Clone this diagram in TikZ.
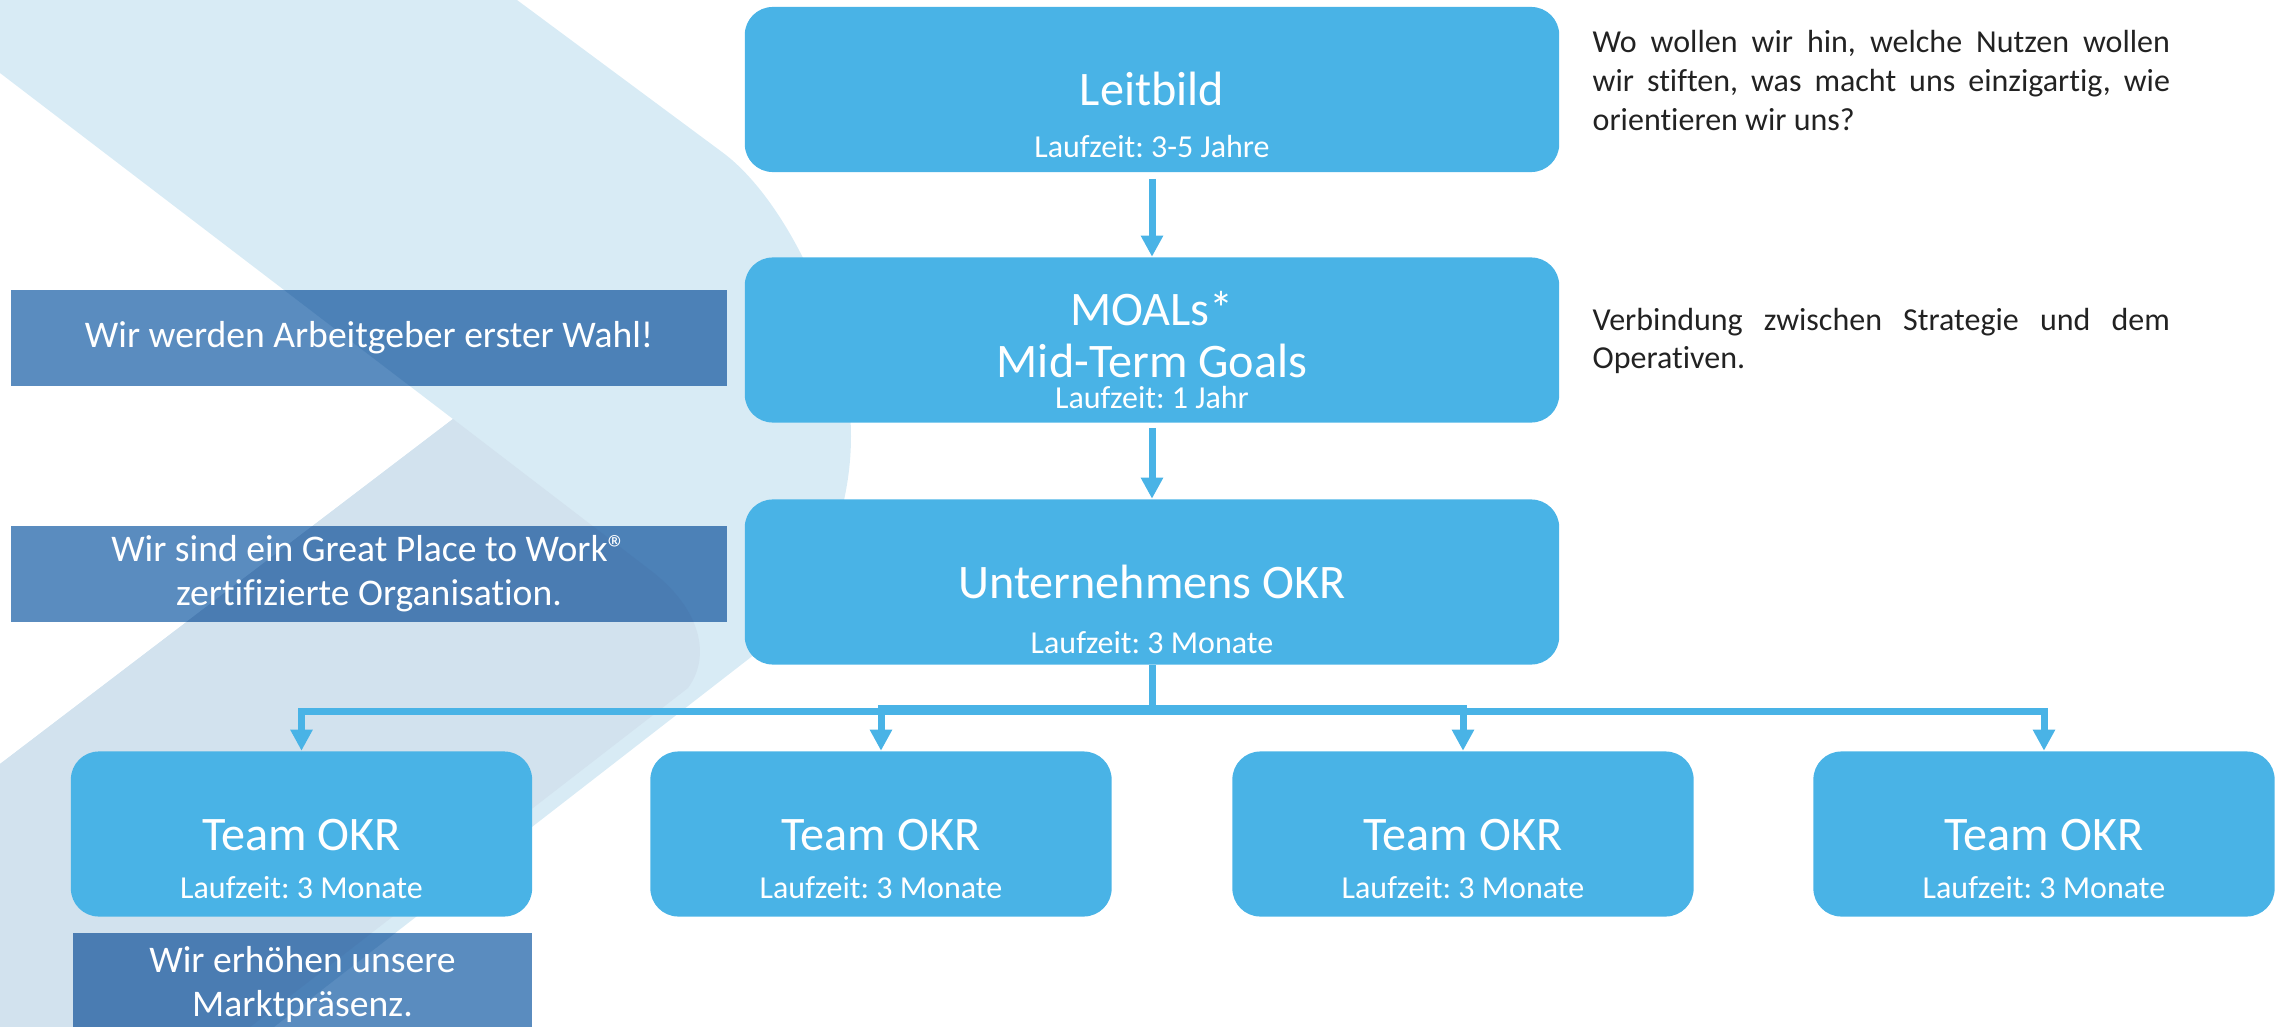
\documentclass[tikz,border=0pt]{standalone}
\usepackage{fontspec}
\setmainfont{Carlito}[Ligatures=NoCommon]
\usetikzlibrary{positioning,calc,arrows.meta}

\definecolor{okrblue}{HTML}{49B3E6}
\definecolor{goalblue}{HTML}{5A8CBF}
\definecolor{bandblue}{HTML}{D8EBF5}
\definecolor{bandgrey}{HTML}{D2E2EE}
\definecolor{notegrey}{HTML}{222222}

\newcommand\boxheadfont{\fontsize{13.7}{16.4}\selectfont}
\newcommand\boxtimefont{\fontsize{9.1}{10.9}\selectfont}
\newcommand\goalfont{\fontsize{10.7}{12.5}\selectfont}
\newcommand\notefont{\fontsize{9.1}{10.95}\selectfont}
\frenchspacing

\tikzset{
  okrbox/.style={fill=okrblue, rounded corners=0.28cm, minimum width=8.14cm,
    minimum height=1.65cm, inner sep=0pt},
  teambox/.style={okrbox, minimum width=4.61cm},
  goalbox/.style={preaction={fill=goalblue, blend mode=multiply},
    minimum width=7.16cm, minimum height=0.96cm, inner sep=0pt,
    text=white, align=center, font=\goalfont},
  headtext/.style={text=white, font=\boxheadfont, anchor=base, inner sep=0pt},
  timetext/.style={text=white, font=\boxtimefont, anchor=base, inner sep=0pt},
  notetext/.style={text=notegrey, font=\notefont, anchor=base west,
    text width=5.77cm, align=justify, inner sep=0pt},
  link/.style={okrblue, line width=0.07cm,
    -{Triangle[length=0.21cm,width=0.21cm]}},
}

\begin{document}
\begin{tikzpicture}[x=0.01cm, y=-0.01cm]
  \useasboundingbox (0,0) rectangle (2277,1027);

  % background chevron
  \fill[bandblue] (0,0) -- (517,0) -- (722,152)
    .. controls (790,202) and (851,340) .. (851,436)
    .. controls (851,530) and (806,615) .. (746,661)
    -- (274,1027) -- (0,1027) -- (0,764) -- (453,419) -- (0,73) -- cycle;
  \fill[bandgrey] (453,419) -- (650,570)
    .. controls (700,608) and (712,655) .. (688,688)
    -- (250,1027) -- (0,1027) -- (0,764) -- cycle;

  % boxes
  \node[okrbox] (leit) at (1152,89.5) {};
  \node[okrbox] (moal) at (1152,340) {};
  \node[okrbox] (unt) at (1152,582) {};
  \foreach \i/\x in {1/301.5, 2/881, 3/1463, 4/2044}
    \node[teambox] (team\i) at (\x,834) {};

  % box texts
  \node[headtext] (leit-head) at ($(leit.center)+(0,16.5)$) {Leitbild};
  \node[timetext] (leit-time) at ($(leit.center)+(0,68)$) {Laufzeit: 3-5 Jahre};
  \node[headtext] (moal-head) at ($(moal.center)+(0,-15)$) {MOALs*};
  \node[headtext] (moal-sub) at ($(moal.center)+(0,37)$) {Mid-Term Goals};
  \node[timetext] (moal-time) at ($(moal.center)+(0,68)$) {Laufzeit: 1 Jahr};
  \node[headtext] (unt-head) at ($(unt.center)+(0,16)$) {Unternehmens OKR};
  \node[timetext] (unt-time) at ($(unt.center)+(0,71)$) {Laufzeit: 3 Monate};
  \foreach \i in {1,...,4} {
    \node[headtext] (team\i-head) at ($(team\i.center)+(0,16)$) {Team OKR};
    \node[timetext] (team\i-time) at ($(team\i.center)+(0,64)$) {Laufzeit: 3 Monate};
  }

  % goals
  \node[goalbox] (goal-moal) at (369,338) {Wir werden Arbeitgeber erster Wahl!};
  \node[goalbox] (goal-unt) at (369,574)
    {Wir sind ein Great Place to Work®\\zertifizierte Organisation.};
  \node[goalbox, minimum width=4.59cm, minimum height=1.02cm] (goal-team) at (302.5,984)
    {Wir erhöhen unsere\\Marktpräsenz.};

  % notes
  \node[notetext] (leit-note) at (1592,53) {Wo wollen wir hin, welche Nutzen wollen\linebreak
    wir stiften, was macht uns einzigartig, wie\linebreak orientieren wir uns?};
  \node[notetext] (moal-note) at (1592,330) {Verbindung zwischen Strategie und dem\linebreak
    Operativen.};

  % links
  \draw[link, shorten <=0.06cm] (leit) -- (moal);
  \draw[link, shorten <=0.05cm] (moal) -- (unt);
  \draw[link] (unt.south) -- ++(0,46.5) -| (team1.north);
  \draw[link] (unt.south) -- ++(0,43.5) -| (team2.north);
  \draw[link] (unt.south) -- ++(0,43.5) -| (team3.north);
  \draw[link] (unt.south) -- ++(0,46.5) -| (team4.north);
\end{tikzpicture}
\end{document}
